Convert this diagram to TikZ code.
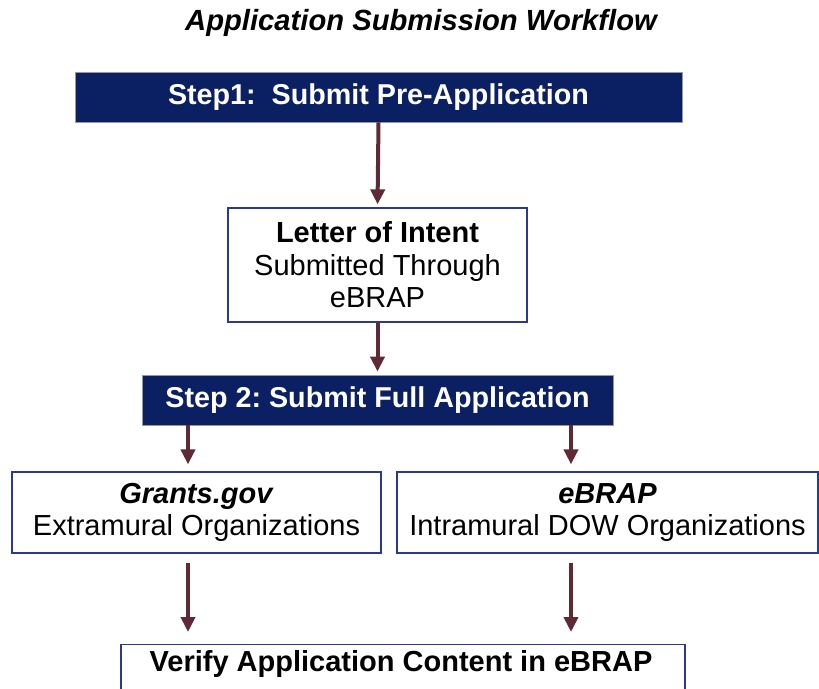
\documentclass[tikz,border=0pt]{standalone}
\usepackage{fontspec}
\setmainfont{Liberation Sans}
\usetikzlibrary{arrows.meta}
\definecolor{navy}{HTML}{0B1F63}
\definecolor{boxline}{HTML}{2B3A8C}
\definecolor{arrowc}{HTML}{5E2A35}
\tikzset{
  stepbox/.style={rectangle, fill=navy, draw=black!40, line width=0.8pt, text=white, font=\fontsize{28.7}{33}\selectfont\bfseries, inner sep=0pt},
  whitebox/.style={rectangle, draw=boxline, line width=1.2pt, fill=white, align=center, font=\fontsize{29}{32.5}\selectfont, inner sep=0pt},
  arr/.style={draw=arrowc, line width=4pt, -{Triangle[width=14pt,length=15pt]}, arrowc}
}
\begin{document}
\begin{tikzpicture}[x=1pt,y=-1pt]
\useasboundingbox (0,0) rectangle (819,688);
\node[font=\fontsize{29.2}{33}\selectfont\bfseries\itshape] (title) at (421,23) {Application Submission Workflow};
\node[stepbox, minimum width=607pt, minimum height=50pt] (s1) at (378.5,97) {Step1:\ \ Submit Pre-Application};
\node[whitebox, minimum width=299pt, minimum height=114pt] (loi) at (377.5,265) {\textbf{Letter of Intent}\\Submitted Through\\eBRAP};
\node[stepbox, minimum width=471pt, minimum height=50pt] (s2) at (377.5,400) {Step 2:\ Submit Full Application};
\node[whitebox, minimum width=369pt, minimum height=81pt] (gg) at (196.5,512.5) {\textbf{\itshape Grants.gov}\\Extramural Organizations};
\node[whitebox, minimum width=421pt, minimum height=81pt] (eb) at (607.5,512.5) {\textbf{\itshape eBRAP}\\Intramural DOW Organizations};
\node[whitebox, minimum width=564pt, minimum height=80pt, anchor=north, text depth=0pt] (vf) at (403,644) {};
\node[font=\fontsize{29}{33}\selectfont\bfseries] (vft) at (401,664) {Verify Application Content in eBRAP};
\coordinate (a1) at (188,0);
\coordinate (a2) at (571,0);
\draw[arr, shorten >=3pt] (s1.south) -- (loi.north);
\draw[arr, shorten >=3pt] (loi.south) -- (s2.north);
\draw[arr, shorten >=7pt] (s2.south -| a1) -- (gg.north -| a1);
\draw[arr, shorten >=7pt] (s2.south -| a2) -- (eb.north -| a2);
\draw[arr, shorten <=9pt, shorten >=12pt] (gg.south -| a1) -- (vf.north -| a1);
\draw[arr, shorten <=9pt, shorten >=12pt] (eb.south -| a2) -- (vf.north -| a2);
\end{tikzpicture}
\end{document}
